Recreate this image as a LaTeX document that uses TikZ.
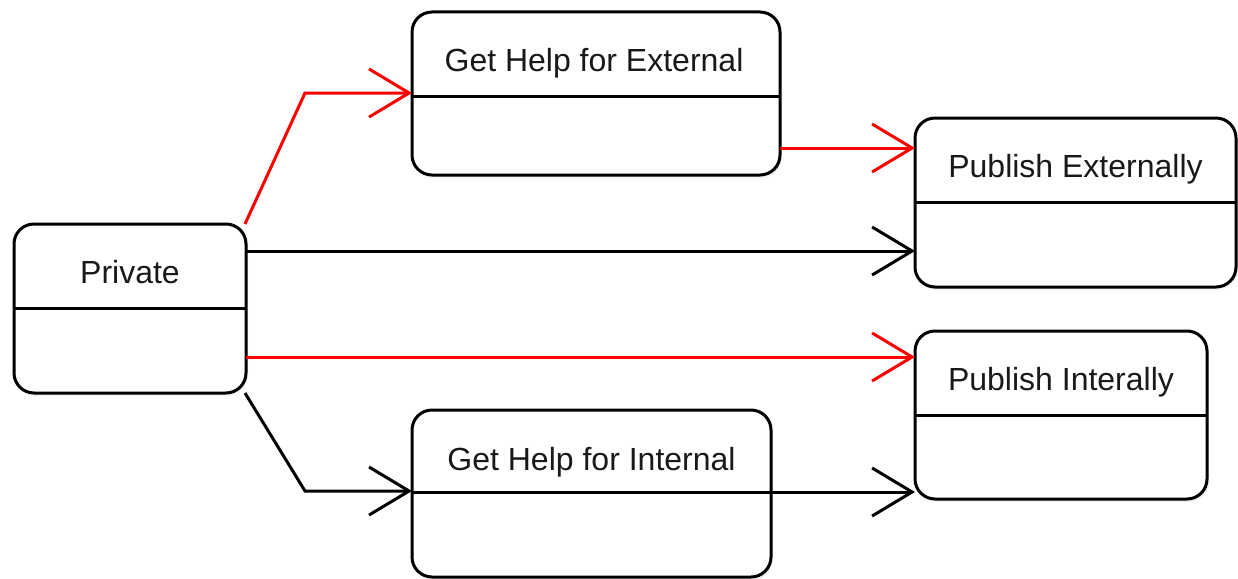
\documentclass[tikz,border=0pt]{standalone}
\usepackage{fontspec}
\setmainfont{Liberation Sans}
\usetikzlibrary{arrows.meta,calc,shadows}
\begin{document}
\begin{tikzpicture}[x=1pt,y=-1pt,
  box/.style={draw=black, line width=3pt, rounded corners=20pt, fill=white,
    outer sep=0pt, inner sep=0pt,
    drop shadow={shadow xshift=2pt,shadow yshift=-3pt,opacity=0.10}},
  title/.style={anchor=base, font=\fontsize{32}{38}\selectfont, text=black!90, inner sep=0pt},
  divider/.style={line width=3pt, draw=black},
  conn/.style={line width=3pt, draw=black, -{Straight Barb[length=40pt,width=48pt]}},
  redconn/.style={conn, draw=red},
]
\useasboundingbox (0,0) rectangle (1238,578);
\fill[white] (0,0) rectangle (1238,578);

% boxes
\node[box, minimum width=232pt, minimum height=169pt] (priv) at (130,308.5) {};
\node[box, minimum width=368pt, minimum height=163pt] (ghe) at (596,93.5) {};
\node[box, minimum width=321pt, minimum height=169pt] (pe) at (1075.5,202.5) {};
\node[box, minimum width=292pt, minimum height=168pt] (pi) at (1061,415) {};
\node[box, minimum width=359pt, minimum height=167pt] (ghi) at (591.5,493.5) {};

% dividers
\foreach \n in {priv,ghe,pe,pi}{
  \draw[divider] ($(\n.north west)+(0,84)$) -- ($(\n.north east)+(0,84)$);
}
\draw[divider] ($(ghi.north west)+(0,82)$) -- ($(ghi.north east)+(0,82)$);

% titles
\node[title] (priv-t) at ($(priv.north)+(0,59)$) {Private};
\node[title] (ghe-t) at ($(ghe.north)+(-2,59)$) {Get Help for External};
\node[title] (pe-t) at ($(pe.north)+(0,59)$) {Publish Externally};
\node[title] (pi-t) at ($(pi.north)+(0,59)$) {Publish Interally};
\node[title] (ghi-t) at ($(ghi.north)+(0,60)$) {Get Help for Internal};

% helper coordinates
\coordinate (b1) at (305,93);
\coordinate (y2) at (0,148);
\coordinate (y3) at (0,251);
\coordinate (y4) at (0,357);
\coordinate (b5) at (305,491);
\coordinate (y6) at ($(ghi.north)+(0,82)$);

% connectors
\draw[redconn] ([xshift=-1pt]priv.north east) -- (b1) -- (ghe.west |- b1);
\draw[redconn] (ghe.east |- y2) -- (pe.west |- y2);
\draw[conn] (priv.east |- y3) -- (pe.west |- y3);
\draw[redconn] (priv.east |- y4) -- (pi.west |- y4);
\draw[conn] ([xshift=-1pt]priv.south east) -- (b5) -- (ghi.west |- b5);
\draw[conn] (ghi.west |- y6) -- (pi.west |- y6);
\end{tikzpicture}
\end{document}
